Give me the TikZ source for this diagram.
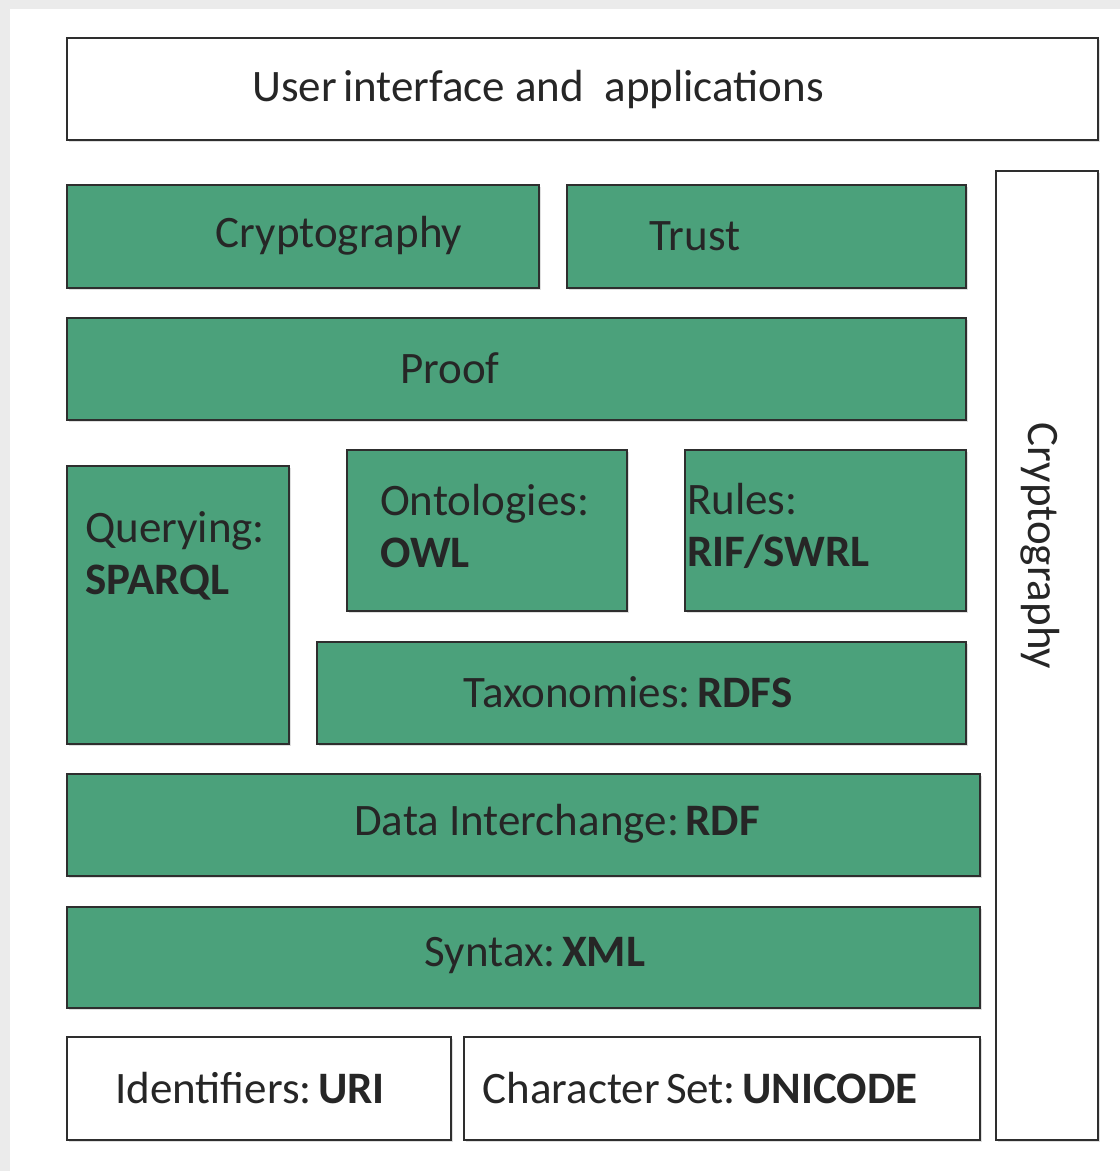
\documentclass[tikz,border=0pt]{standalone}
\usepackage{fontspec}
\setmainfont{Carlito}
\usetikzlibrary{shadows}
\definecolor{layergreen}{HTML}{4BA17B}
\definecolor{edgegray}{HTML}{2E2E2E}
\definecolor{bggray}{HTML}{EBEBEB}
\newcommand{\csp}{\hspace{0.14em}}
\begin{document}
\begin{tikzpicture}[x=1pt,y=-1pt,
  box/.style={draw=edgegray,line width=1.6pt,
    drop shadow={opacity=0.25,shadow xshift=1.5pt,shadow yshift=-2pt}},
  gbox/.style={box,fill=layergreen},
  wbox/.style={box,fill=white},
  lbl/.style={inner sep=0pt,font=\fontsize{45}{52}\selectfont,text=black!85}]
\useasboundingbox (0,0) rectangle (1120,1171);
\fill[bggray] (0,0) rectangle (1120,1171);
\fill[white] (10,9) rectangle (1120,1171);
% boxes
\draw[wbox] (67,38) rectangle (1098,140);
\draw[gbox] (67,185) rectangle (539,288);
\draw[gbox] (567,185) rectangle (966,288);
\draw[wbox] (996,171) rectangle (1098,1140);
\draw[gbox] (67,318) rectangle (966,420);
\draw[gbox] (67,466) rectangle (289,744);
\draw[gbox] (347,450) rectangle (627,611);
\draw[gbox] (685,450) rectangle (966,611);
\draw[gbox] (317,642) rectangle (966,744);
\draw[gbox] (67,774) rectangle (980,876);
\draw[gbox] (67,907) rectangle (980,1008);
\draw[wbox] (67,1037) rectangle (451,1140);
\draw[wbox] (464,1037) rectangle (980,1140);
% labels
\node[lbl] (ui) at (538,89) {User\csp interface and\ \ applications};
\node[lbl] (crypto) at (339,236) {Cryptography};
\node[lbl] (trust) at (695,236) {Trust};
\node[lbl] (proof) at (450,368) {Proof};
\node[lbl,anchor=west,align=left] (query) at (85,556) {Querying:\\\textbf{SPARQL}};
\node[lbl,anchor=west,align=left] (onto) at (380,526) {Ontologies:\\\textbf{OWL}};
\node[lbl,anchor=west,align=left] (rules) at (687,526) {Rules:\\\textbf{RIF/SWRL}};
\node[lbl] (tax) at (628,692) {Taxonomies:\csp\textbf{RDFS}};
\node[lbl] (rdf) at (557,824) {Data Interchange:\csp\textbf{RDF}};
\node[lbl] (xml) at (535,956) {Syntax:\csp\textbf{XML}};
\node[lbl] (uri) at (250,1088) {Identifiers:\csp\textbf{URI}};
\node[lbl] (uni) at (700,1088) {Character\csp Set:\csp\textbf{UNICODE}};
\node[lbl,rotate=-90] (vcrypto) at (1040,546) {Cryptography};
\end{tikzpicture}
\end{document}
